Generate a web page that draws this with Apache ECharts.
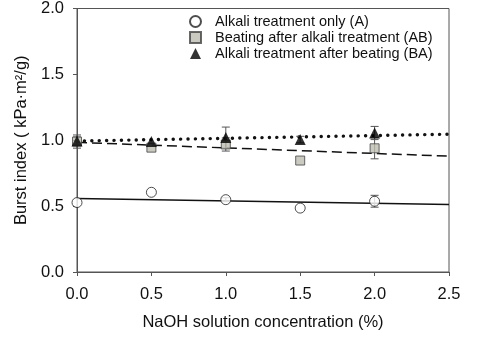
<!DOCTYPE html>
<html>
<head>
<meta charset="utf-8">
<script src="https://cdn.jsdelivr.net/npm/echarts@6/dist/echarts.min.js"></script>
<style>
  html, body { margin: 0; padding: 0; background: #fff; }
  #chart { width: 500px; height: 354px; }
</style>
</head>
<body>
<div id="chart"></div>
<script>
// NaOH concentration (%)
const conc = [0, 0.5, 1.0, 1.5, 2.0];

// burst index values
const valA = [0.527, 0.605, 0.549, 0.485, 0.537];
const valAB = [0.99, 0.944, 0.968, 0.846, 0.939];
const valBA = [0.995, 0.99, 1.02, 1.005, 1.055];

// error bar half-heights (0 = hidden behind the marker)
const errA = [0, 0, 0.015, 0, 0.045];
const errAB = [0.05, 0, 0.05, 0, 0.08];
const errBA = [0.03, 0, 0.08, 0.025, 0.05];

// regression line end points at x = 0 and x = 2.5
const fitX = [0, 2.5];
const fitA = [0.557, 0.512];
const fitAB = [0.984, 0.879];
const fitBA = [0.994, 1.046];

const names = [
  "Alkali treatment only (A)",
  "Beating after alkali treatment (AB)",
  "Alkali treatment after beating (BA)",
];

const font = "Liberation Sans, Arial, sans-serif";
const axisColor = "#555";

const pairs = (xs, ys) => xs.map((x, i) => [x, ys[i]]);
const errData = (vals, errs) =>
  conc
    .map((x, i) => [x, vals[i] - errs[i], vals[i] + errs[i]])
    .filter((d, i) => errs[i] > 0);

// vertical error bar with caps
const renderErr = (params, api) => {
  const lo = api.coord([api.value(0), api.value(1)]);
  const hi = api.coord([api.value(0), api.value(2)]);
  const w = 4;
  const style = { stroke: "#555", lineWidth: 1 };
  return {
    type: "group",
    children: [
      { type: "line", shape: { x1: lo[0], y1: lo[1], x2: hi[0], y2: hi[1] }, style },
      { type: "line", shape: { x1: lo[0] - w, y1: lo[1], x2: lo[0] + w, y2: lo[1] }, style },
      { type: "line", shape: { x1: hi[0] - w, y1: hi[1], x2: hi[0] + w, y2: hi[1] }, style },
    ],
  };
};

const chart = echarts.init(document.getElementById("chart"));

const option = {
  animation: false,
  grid: {
    left: 77,
    right: 51,
    top: 4,
    bottom: 82,
    show: true,
    borderColor: axisColor,
    borderWidth: 1,
  },
  legend: {
    data: names,
    orient: "vertical",
    left: 184,
    top: 9,
    itemWidth: 11,
    itemHeight: 11,
    itemGap: 1,
    textStyle: { fontFamily: font, fontSize: 14.5, color: "#111", padding: [0, 0, 0, 9] },
    selectedMode: false,
  },
  xAxis: {
    type: "value",
    min: 0,
    max: 2.5,
    interval: 0.5,
    name: "NaOH solution concentration (%)",
    nameLocation: "middle",
    nameGap: 42,
    nameTextStyle: { fontFamily: font, fontSize: 16.5, color: "#111" },
    axisLine: { lineStyle: { color: axisColor } },
    axisTick: { inside: false, length: 4, lineStyle: { color: axisColor } },
    axisLabel: {
      fontFamily: font,
      fontSize: 16.5,
      color: "#111",
      margin: 14,
      formatter: (v) => v.toFixed(1),
    },
    splitLine: { show: false },
  },
  yAxis: {
    type: "value",
    min: 0,
    max: 2.0,
    interval: 0.5,
    name: "Burst index ( kPa·m²/g)",
    nameLocation: "middle",
    nameGap: 44,
    nameTextStyle: { fontFamily: font, fontSize: 16.5, color: "#111" },
    axisLine: { lineStyle: { color: axisColor } },
    axisTick: { inside: false, length: 4, lineStyle: { color: axisColor } },
    axisLabel: {
      fontFamily: font,
      fontSize: 16.5,
      color: "#111",
      margin: 13,
      formatter: (v) => v.toFixed(1),
    },
    splitLine: { show: false },
  },
  series: [
    {
      type: "line",
      data: pairs(fitX, fitA),
      showSymbol: false,
      lineStyle: { color: "#111", width: 1.5, type: "solid" },
      z: 1,
      silent: true,
    },
    {
      type: "line",
      data: pairs(fitX, fitAB),
      showSymbol: false,
      lineStyle: { color: "#111", width: 1.5, type: [10, 5] },
      z: 1,
      silent: true,
    },
    {
      type: "line",
      data: pairs(fitX, fitBA),
      showSymbol: false,
      lineStyle: { color: "#111", width: 3.4, type: [0.1, 7.3], cap: "round" },
      z: 1,
      silent: true,
    },
    { type: "custom", data: errData(valA, errA), renderItem: renderErr, z: 2 },
    { type: "custom", data: errData(valAB, errAB), renderItem: renderErr, z: 2 },
    { type: "custom", data: errData(valBA, errBA), renderItem: renderErr, z: 2 },
    {
      name: names[0],
      type: "scatter",
      data: pairs(conc, valA),
      symbol: "circle",
      symbolSize: 10,
      itemStyle: { color: "#fff", borderColor: "#222", borderWidth: 1 },
      z: 3,
    },
    {
      name: names[1],
      type: "scatter",
      data: pairs(conc, valAB),
      symbol: "rect",
      symbolSize: 9,
      itemStyle: { color: "#bdbdb2", borderColor: "#444", borderWidth: 1 },
      z: 3,
    },
    {
      name: names[2],
      type: "scatter",
      data: pairs(conc, valBA),
      symbol: "triangle",
      symbolSize: 11,
      itemStyle: { color: "#000" },
      z: 4,
    },
  ],
};

chart.setOption(option);
</script>
</body>
</html>
